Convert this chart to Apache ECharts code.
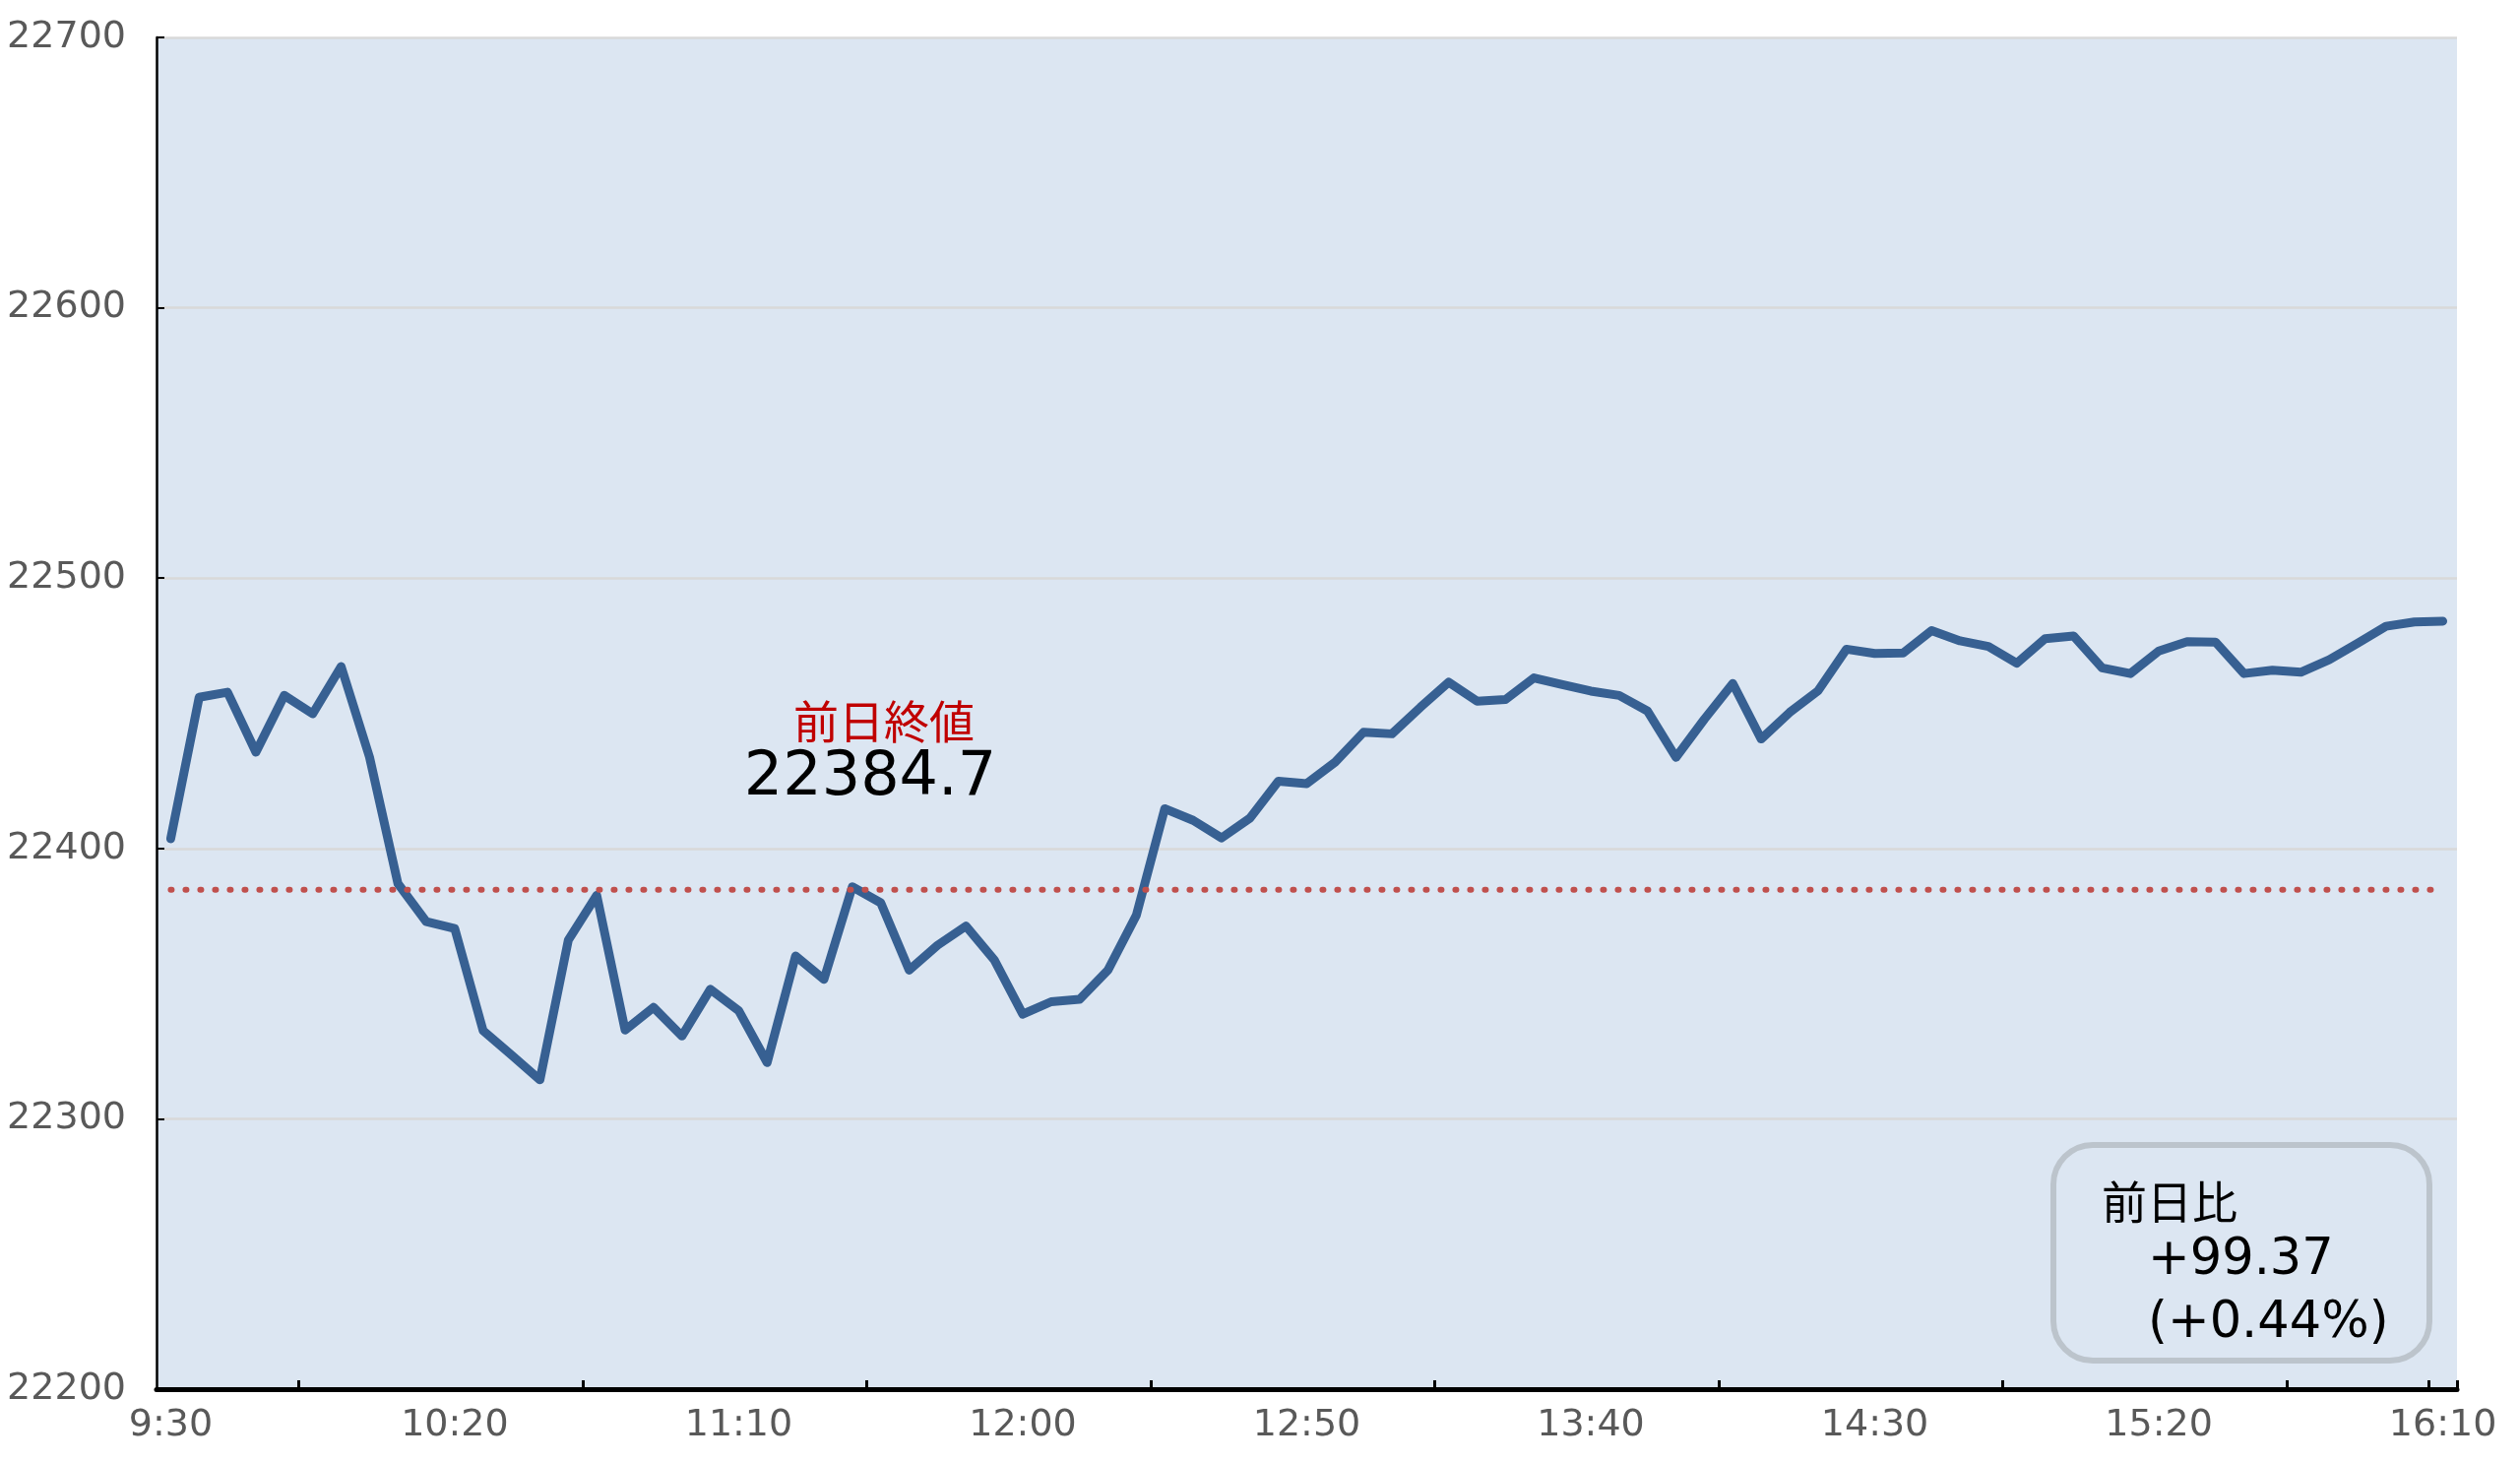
<!DOCTYPE html>
<html>
<head>
<meta charset="utf-8">
<script src="https://cdn.jsdelivr.net/npm/echarts@6/dist/echarts.min.js"></script>
<style>
html,body{margin:0;padding:0;background:#fff;}
#chart{width:2560px;height:1485px;}
</style>
</head>
<body>
<div id="chart"></div>
<script>
// ---- data ----
const times = [
  "9:30","9:35","9:40","9:45","9:50","9:55","10:00","10:05","10:10","10:15",
  "10:20","10:25","10:30","10:35","10:40","10:45","10:50","10:55","11:00","11:05",
  "11:10","11:15","11:20","11:25","11:30","11:35","11:40","11:45","11:50","11:55",
  "12:00","12:05","12:10","12:15","12:20","12:25","12:30","12:35","12:40","12:45",
  "12:50","12:55","13:00","13:05","13:10","13:15","13:20","13:25","13:30","13:35",
  "13:40","13:45","13:50","13:55","14:00","14:05","14:10","14:15","14:20","14:25",
  "14:30","14:35","14:40","14:45","14:50","14:55","15:00","15:05","15:10","15:15",
  "15:20","15:25","15:30","15:35","15:40","15:45","15:50","15:55","16:00","16:05",
  "16:10"
];
const prices = [
  22403.6,22455.9,22457.8,22435.6,22456.6,22449.8,22467.3,22433.8,22387.0,22372.9,
  22370.4,22332.6,22323.6,22314.4,22366.1,22382.7,22332.8,22341.2,22330.6,22347.9,
  22340.0,22320.8,22360.2,22351.6,22385.8,22379.9,22355.0,22364.2,22371.3,22358.7,
  22338.7,22343.3,22344.2,22355.0,22375.3,22414.7,22410.4,22403.9,22411.2,22424.9,
  22424.0,22431.9,22443.0,22442.4,22452.2,22461.5,22454.5,22455.1,22463.1,22460.6,
  22458.2,22456.6,22450.8,22433.7,22447.8,22461.0,22440.5,22450.3,22458.3,22473.7,
  22472.1,22472.3,22480.6,22476.8,22474.7,22468.5,22477.6,22478.6,22466.8,22464.7,
  22473.0,22476.5,22476.3,22464.7,22465.9,22465.2,22469.8,22475.9,22482.2,22483.8,
  22484.07
];
const prevClose = 22384.7;
const prevCloseLabel = "前日終値";
const changeLabel = "前日比";
const changeValue = "+99.37";
const changePct = "(+0.44%)";
const yMin = 22200, yMax = 22700, yStep = 100;

// ---- chart ----
const chart = echarts.init(document.getElementById('chart'), null, {renderer: 'canvas'});
const prevLine = times.map(() => prevClose);
const axisFont = {fontFamily: 'DejaVu Sans', fontSize: 38, color: '#595959'};

chart.setOption({
  animation: false,
  backgroundColor: '#ffffff',
  grid: {
    left: 159, right: 64, top: 38, bottom: 74,
    show: true, backgroundColor: '#dce6f2', borderWidth: 0,
    containLabel: false, outerBoundsMode: 'none'
  },
  xAxis: {
    type: 'category',
    data: times,
    boundaryGap: true,
    axisLine: {show: true, lineStyle: {color: '#000', width: 5}},
    axisTick: {
      show: true, inside: true, length: 9,
      lineStyle: {color: '#000', width: 3},
      interval: function (i) { return i % 10 === 5 || i === 80; }
    },
    axisLabel: Object.assign({interval: 9, margin: 18}, axisFont),
    splitLine: {show: false}
  },
  yAxis: {
    type: 'value',
    min: yMin, max: yMax, interval: yStep,
    axisLine: {show: true, lineStyle: {color: '#000', width: 2.5}},
    axisTick: {show: true, inside: true, length: 8, lineStyle: {color: '#000', width: 2}},
    axisLabel: Object.assign({margin: 31, formatter: function (v) { return String(v); }}, axisFont),
    splitLine: {show: true, lineStyle: {color: '#d9d9d9', width: 2.5}}
  },
  series: [
    {
      type: 'line',
      data: prices,
      symbol: 'none',
      lineStyle: {color: '#376092', width: 9, cap: 'round', join: 'round'},
      z: 3
    },
    {
      type: 'line',
      data: prevLine,
      symbol: 'none',
      lineStyle: {color: '#c0504d', width: 6, type: [1, 14], cap: 'round'},
      z: 4
    }
  ],
  graphic: [
    {
      type: 'text', z: 10,
      style: {
        x: 898, y: 733, text: prevCloseLabel, textAlign: 'center', textVerticalAlign: 'middle',
        fontFamily: 'Noto Sans CJK JP', fontSize: 46, fill: '#c00000'
      }
    },
    {
      type: 'text', z: 10,
      style: {
        x: 884, y: 791, text: prevClose.toFixed(1), textAlign: 'center', textVerticalAlign: 'middle',
        fontFamily: 'DejaVu Sans', fontSize: 62, fill: '#000000'
      }
    },
    {
      type: 'rect', z: 9,
      shape: {x: 2086, y: 1163, width: 382, height: 219, r: 40},
      style: {fill: '#dce6f2', stroke: '#bcc4cc', lineWidth: 6}
    },
    {
      type: 'text', z: 10,
      style: {
        x: 2135, y: 1221, text: changeLabel, textAlign: 'left', textVerticalAlign: 'middle',
        fontFamily: 'Noto Sans CJK JP', fontSize: 46, fill: '#000000'
      }
    },
    {
      type: 'text', z: 10,
      style: {
        x: 2182, y: 1281, text: changeValue, textAlign: 'left', textVerticalAlign: 'middle',
        fontFamily: 'DejaVu Sans', fontSize: 51, fill: '#000000'
      }
    },
    {
      type: 'text', z: 10,
      style: {
        x: 2182, y: 1345, text: changePct, textAlign: 'left', textVerticalAlign: 'middle',
        fontFamily: 'DejaVu Sans', fontSize: 51, fill: '#000000'
      }
    }
  ]
});
</script>
</body>
</html>
